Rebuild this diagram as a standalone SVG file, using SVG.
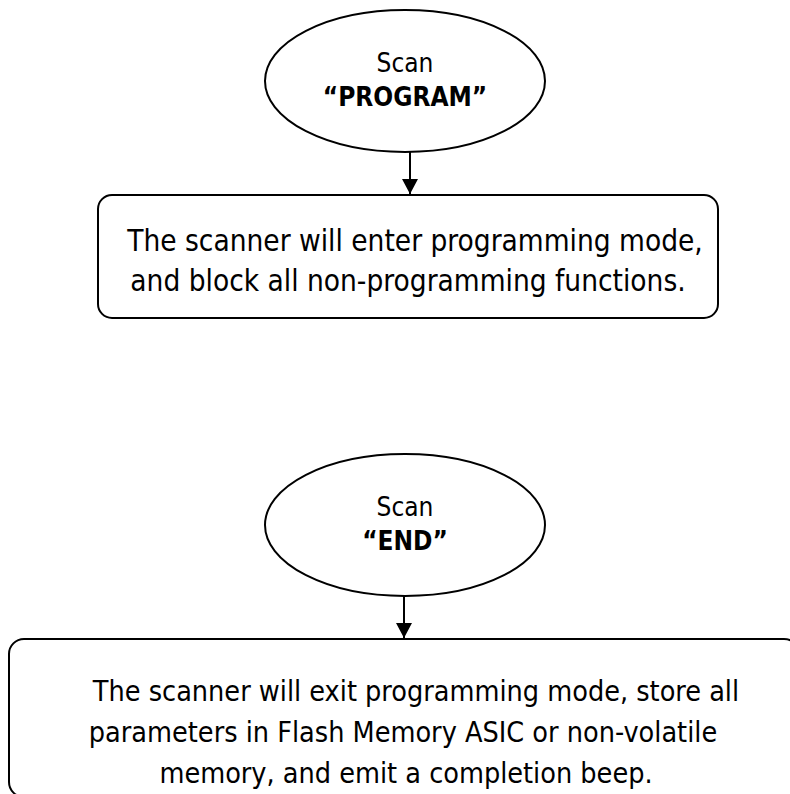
<svg xmlns="http://www.w3.org/2000/svg" width="790" height="794" viewBox="0 0 790 794">
<style>
.shape{fill:#fff;stroke:#000;stroke-width:2}
.txt{font-family:"DejaVu Sans Condensed","DejaVu Sans",sans-serif;font-size:26px;fill:#000;text-anchor:middle}
.big{font-size:29.5px}
.mid{font-size:28.5px}
.b{font-weight:bold}
.conn{stroke:#000;stroke-width:2;fill:none}
</style>
<defs>
<marker id="ah" markerUnits="userSpaceOnUse" markerWidth="16" markerHeight="16" refX="15" refY="8" orient="auto">
<path d="M0,0 L15,8 L0,16 Z" fill="#000"/>
</marker>
</defs>
<rect width="790" height="794" fill="#fff"/>
<g id="connectors">
<line class="conn" x1="410" y1="152" x2="410" y2="194" marker-end="url(#ah)"/>
<line class="conn" x1="404" y1="596" x2="404" y2="638" marker-end="url(#ah)"/>
</g>
<g id="scan-program">
<ellipse class="shape" cx="405" cy="81" rx="140" ry="71"/>
<text class="txt" x="405" y="72">Scan</text>
<text class="txt b" x="405" y="106">“PROGRAM”</text>
</g>
<g id="enter-mode">
<rect class="shape" x="98" y="195" width="620" height="123" rx="14"/>
<text class="txt big" x="415" y="251">The scanner will enter programming mode,</text>
<text class="txt big" x="408" y="291">and block all non-programming functions.</text>
</g>
<g id="scan-end">
<ellipse class="shape" cx="405" cy="525" rx="140" ry="71"/>
<text class="txt" x="405" y="516">Scan</text>
<text class="txt b" x="405" y="550">“END”</text>
</g>
<g id="exit-mode">
<rect class="shape" x="9" y="639" width="790" height="158" rx="15"/>
<text class="txt mid" x="416" y="701">The scanner will exit programming mode, store all</text>
<text class="txt mid" x="403" y="742">parameters in Flash Memory ASIC or non-volatile</text>
<text class="txt mid" x="406" y="783">memory, and emit a completion beep.</text>
</g>
</svg>
